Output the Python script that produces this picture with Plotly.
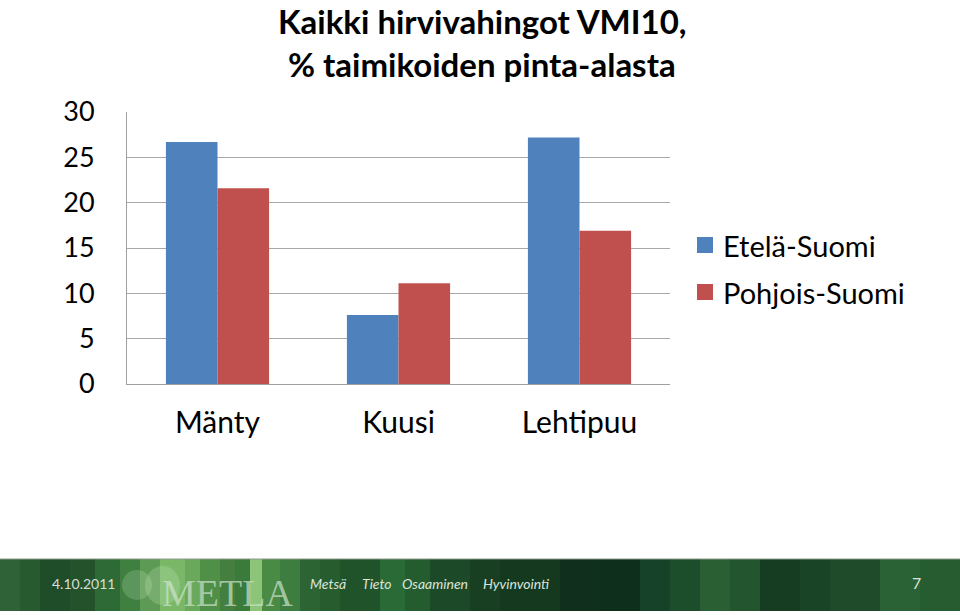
import plotly.graph_objects as go

categories = ["Mänty", "Kuusi", "Lehtipuu"]
etela = [26.7, 7.6, 27.2]
pohjois = [21.6, 11.1, 16.9]
series_names = ["Etelä-Suomi", "Pohjois-Suomi"]
y_ticks = [0, 5, 10, 15, 20, 25, 30]
title_lines = ["Kaikki hirvivahingot VMI10,", "% taimikoiden pinta-alasta"]
footer_date = "4.10.2011"
footer_words = ["Metsä", "Tieto", "Osaaminen", "Hyvinvointi"]
page_no = "7"

BLUE = "#4F81BD"
RED = "#C0504D"
W, H = 960, 615
FONT = "Lato"

def px(x):
    return x / W

def py(y):
    return 1 - y / H

fig = go.Figure()
fig.add_trace(go.Bar(x=categories, y=etela, name=series_names[0], marker=dict(color=BLUE, line=dict(width=0))))
fig.add_trace(go.Bar(x=categories, y=pohjois, name=series_names[1], marker=dict(color=RED, line=dict(width=0))))

shapes = []
annotations = []

# Title (two lines as separate annotations so the boxes stay inside the page)
for line_text, yc in zip(title_lines, [21, 64]):
    annotations.append(dict(text="<b>" + line_text + "</b>", x=px(482), y=py(yc), xref="paper", yref="paper",
                            showarrow=False, xanchor="center", yanchor="middle", borderpad=0,
                            font=dict(family=FONT, size=33, color="#000")))

# Legend (manual)
for i, (nm, col) in enumerate(zip(series_names, [BLUE, RED])):
    yc = 245 + i * 47
    shapes.append(dict(type="rect", xref="paper", yref="paper", x0=px(697), x1=px(713),
                       y0=py(yc - 8), y1=py(yc + 8), fillcolor=col, line=dict(width=0)))
    annotations.append(dict(text=nm, x=px(721), y=py(yc), xref="paper", yref="paper", showarrow=False,
                            xanchor="left", yanchor="middle", font=dict(family=FONT, size=29, color="#000")))

# Footer background stripes (decoration)
stripes = [
    (0, 20, "#2f6236"), (20, 40, "#285a30"), (40, 70, "#1f4c29"), (70, 95, "#23522b"),
    (95, 120, "#2d6a35"), (120, 140, "#3f7f40"), (140, 160, "#5d9a55"),
    (160, 185, "#7ab868"), (185, 200, "#6aa85c"), (200, 220, "#4f8f48"), (220, 235, "#447f40"),
    (235, 250, "#3a7a3a"), (250, 262, "#8cc47a"), (262, 280, "#4a8a45"), (280, 300, "#3d7d3f"),
    (300, 320, "#2c6433"), (320, 340, "#275c2f"), (340, 380, "#21532b"), (380, 405, "#2a6a36"),
    (405, 430, "#245c30"), (430, 470, "#1c4a28"), (470, 500, "#183f22"), (500, 560, "#14391f"),
    (560, 600, "#102f1c"), (600, 640, "#0f2f1d"), (640, 670, "#17422a"), (670, 700, "#1d4e2b"),
    (700, 730, "#2a5f34"), (730, 760, "#23552f"), (760, 800, "#163d22"), (800, 830, "#1a4426"),
    (830, 880, "#1f4b2a"), (880, 920, "#2b6235"), (920, 960, "#275c31"),
]
for x0, x1, c in stripes:
    shapes.append(dict(type="rect", xref="paper", yref="paper", x0=px(x0), x1=px(x1),
                       y0=py(611), y1=py(559), fillcolor=c, line=dict(width=0), layer="below"))
shapes.append(dict(type="line", xref="paper", yref="paper", x0=0, x1=1, y0=py(559), y1=py(559),
                   line=dict(color="#8a9a8a", width=1)))
# glow circles
shapes.append(dict(type="circle", xref="paper", yref="paper", x0=px(122), x1=px(152), y0=py(600), y1=py(570),
                   fillcolor="rgba(200,230,190,0.22)", line=dict(width=0)))
shapes.append(dict(type="circle", xref="paper", yref="paper", x0=px(145), x1=px(180), y0=py(605), y1=py(566),
                   fillcolor="rgba(210,240,200,0.22)", line=dict(width=0)))

annotations.append(dict(text=footer_date, x=px(50), y=py(583), xref="paper", yref="paper", showarrow=False,
                        xanchor="left", yanchor="middle",
                        font=dict(family=FONT, size=14, color="#d6dfd6")))
annotations.append(dict(text="METLA", x=px(160), y=py(593), xref="paper", yref="paper", showarrow=False,
                        xanchor="left", yanchor="middle",
                        font=dict(family="Liberation Serif", size=38, color="rgba(205,228,205,0.7)")))
word_x = [308, 360, 400, 481]
for wx, wd in zip(word_x, footer_words):
    annotations.append(dict(text="<i>" + wd + "</i>", x=px(wx), y=py(583), xref="paper", yref="paper",
                            showarrow=False, xanchor="left", yanchor="middle",
                            font=dict(family=FONT, size=14, color="#dbe4db")))
annotations.append(dict(text=page_no, x=px(916), y=py(582), xref="paper", yref="paper", showarrow=False,
                        xanchor="center", yanchor="middle",
                        font=dict(family=FONT, size=16, color="#dbe4db")))

fig.update_layout(
    template="none",
    width=W, height=H, margin=dict(l=0, r=0, t=0, b=0, pad=0, autoexpand=False),
    paper_bgcolor="white", plot_bgcolor="white",
    showlegend=False, barmode="group", bargap=0.43, bargroupgap=0,
    shapes=shapes, annotations=annotations,
    xaxis=dict(domain=[px(127), px(670)], showgrid=False, showline=True, linecolor="#a0a0a0",
               linewidth=1, ticks="", automargin=False,
               tickfont=dict(family=FONT, size=30, color="#000"), ticklabelstandoff=12),
    yaxis=dict(domain=[py(384), py(112)], range=[0, 30], tickvals=y_ticks, showgrid=True,
               gridcolor="#a8a8a8", gridwidth=1, showline=True, linecolor="#a0a0a0", linewidth=1,
               ticks="", zeroline=False, automargin=False,
               tickfont=dict(family=FONT, size=27, color="#000"), ticklabelstandoff=26),
)

fig.write_html("out.html")
